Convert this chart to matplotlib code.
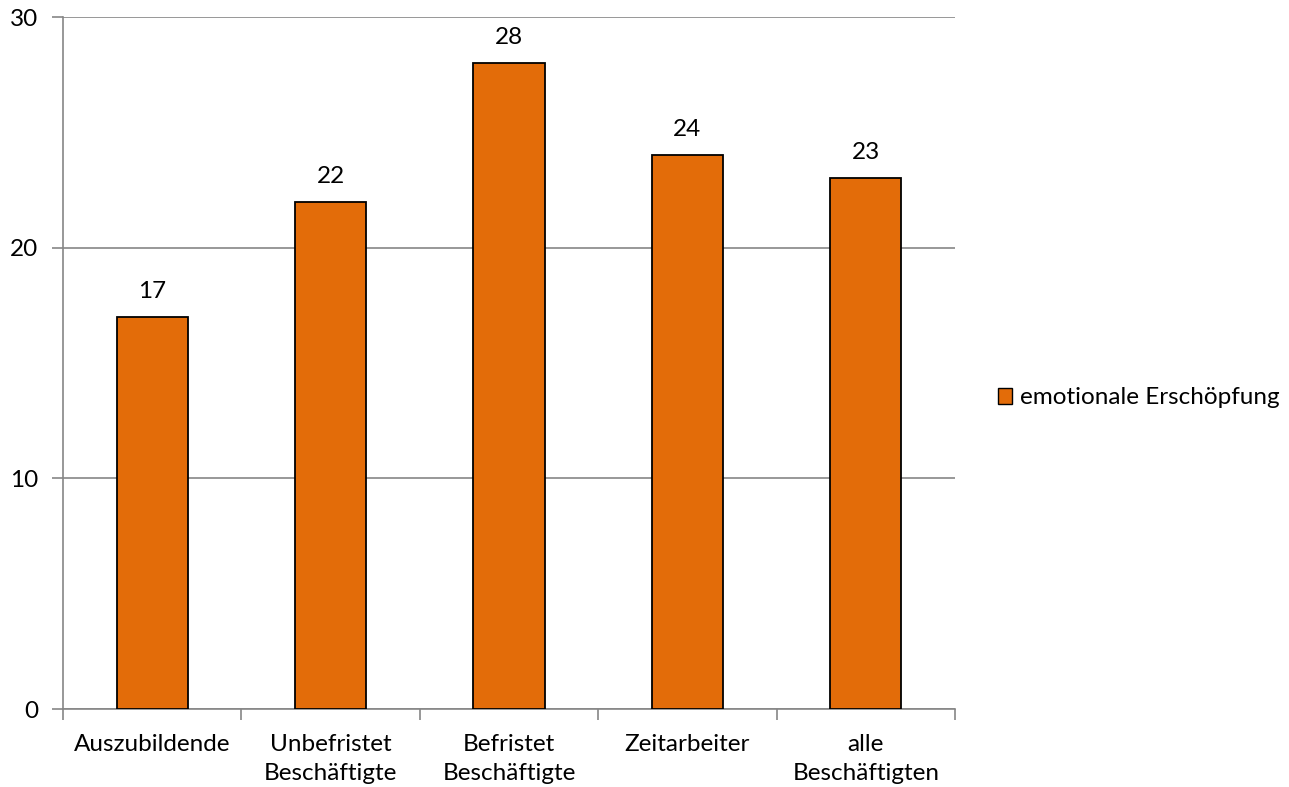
import matplotlib
matplotlib.use("Agg")
import matplotlib.pyplot as plt
from matplotlib.patches import Patch

categories = ["Auszubildende", "Unbefristet\nBeschäftigte", "Befristet\nBeschäftigte", "Zeitarbeiter", "alle\nBeschäftigten"]
values = [17, 22, 28, 24, 23]
yticks = [0, 10, 20, 30]
series_name = "emotionale Erschöpfung"

plt.rcParams['font.family'] = ['Lato', 'DejaVu Sans']
W, H = 1289, 787
fig = plt.figure(figsize=(W/100, H/100), dpi=100)
ax = fig.add_axes([63/W, 1-709/H, (955-63)/W, (709-17)/H])

FS = 17.5
orange = "#E36C09"
grid = "#868686"
x = list(range(len(categories)))
bars = ax.bar(x, values, width=0.4, color=orange, edgecolor="black", linewidth=1.3, zorder=3)
for xi, v in zip(x, values):
    ax.text(xi, v + 0.65, str(v), ha="center", va="bottom", fontsize=FS, color="black")

ax.set_xlim(-0.5, len(categories) - 0.5)
ax.set_ylim(0, 30)
ax.set_yticks(yticks)
ax.set_yticklabels([str(t) for t in yticks], fontsize=FS)
ax.yaxis.grid(True, color=grid, linewidth=1.2, zorder=0)
ax.tick_params(axis="y", length=8, width=1.2, color=grid, pad=10, direction="out")
ax.set_xticks([i - 0.5 for i in range(len(categories) + 1)])
ax.set_xticklabels([])
ax.set_xticks(x, minor=True)
ax.set_xticklabels(categories, minor=True, fontsize=FS, linespacing=1.45)
ax.tick_params(axis="x", which="major", length=8, width=1.2, color=grid, direction="out")
ax.tick_params(axis="x", which="minor", length=0, pad=18)
for s in ["top", "right"]:
    ax.spines[s].set_visible(False)
for s in ["left", "bottom"]:
    ax.spines[s].set_color(grid)
    ax.spines[s].set_linewidth(1.2)

handle = Patch(facecolor=orange, edgecolor="black", linewidth=1.0)
fig.legend([handle], [series_name], loc="center left", bbox_to_anchor=(988/W, 1-398/H),
           frameon=False, fontsize=FS, handlelength=0.6, handleheight=0.6, handletextpad=0.3,
           borderaxespad=0)

fig.savefig("out.png", dpi=100)
